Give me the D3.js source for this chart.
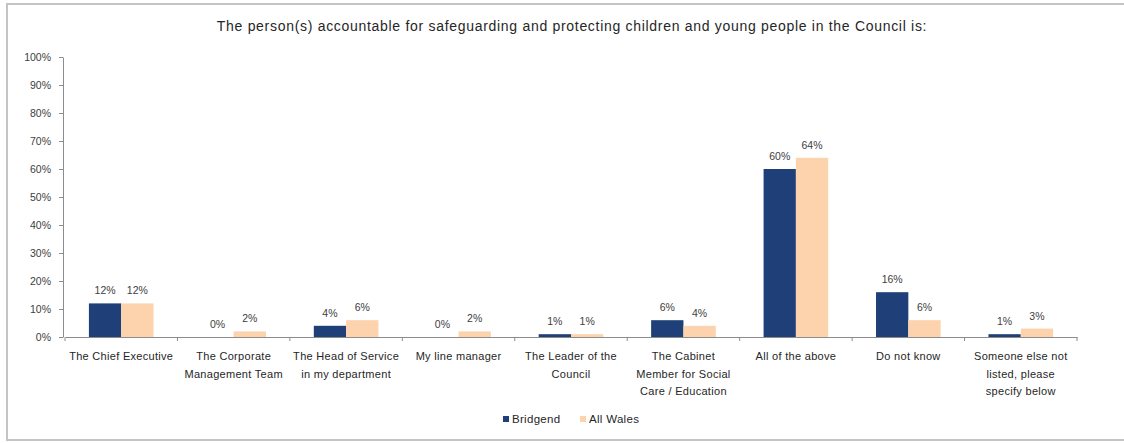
<!DOCTYPE html>
<html><head><meta charset="utf-8">
<script src="https://cdn.jsdelivr.net/npm/d3@7"></script>
<style>
html,body{margin:0;padding:0;background:#fff;}
svg{display:block;font-family:"Liberation Sans",Arial,sans-serif;}
</style></head><body>
<svg id="chart" width="1124" height="443"></svg>
<script>
const title = "The person(s) accountable for safeguarding and protecting children and young people in the Council is:";
const categories = [
  ["The Chief Executive"],
  ["The Corporate", "Management Team"],
  ["The Head of Service", "in my department"],
  ["My line manager"],
  ["The Leader of the", "Council"],
  ["The Cabinet", "Member for Social", "Care / Education"],
  ["All of the above"],
  ["Do not know"],
  ["Someone else not", "listed, please", "specify below"]
];
const seriesNames = ["Bridgend", "All Wales"];
const bridgend = [12, 0, 4, 0, 1, 6, 60, 16, 1];
const allWales = [12, 2, 6, 2, 1, 4, 64, 6, 3];
const yTicks = [0, 10, 20, 30, 40, 50, 60, 70, 80, 90, 100];
const colors = ["#1f3f78", "#fcd3ac"];

const svg = d3.select("#chart");
// outer frame
svg.append("rect").attr("x", 7).attr("y", 4).attr("width", 1130).attr("height", 436)
  .attr("fill", "#fff").attr("stroke", "#c4c4c4").attr("stroke-width", 2);

svg.append("text").attr("x", 572).attr("y", 31).attr("text-anchor", "middle")
  .attr("font-size", 14).attr("letter-spacing", 0.7).attr("fill", "#262626").text(title);

const x0 = d3.scaleBand().domain(d3.range(categories.length)).range([65, 1077]);
const x1 = d3.scaleBand().domain([0, 1]).range([0, x0.bandwidth()]).paddingOuter(0.74).paddingInner(0);
const y = d3.scaleLinear().domain([0, 100]).range([337, 57]);

// y axis
const yAxis = d3.axisLeft(y).tickValues(yTicks).tickFormat(d => d + "%").tickSize(4).tickSizeOuter(0);
const gy = svg.append("g").attr("transform", "translate(63,0)").call(yAxis);
gy.select(".domain").attr("stroke", "#8c8c8c");
gy.selectAll(".tick line").attr("stroke", "#8c8c8c");
gy.selectAll(".tick text").attr("font-size", 10.5).attr("fill", "#404040").attr("x", -12)
  .attr("font-family", "Liberation Sans, Arial, sans-serif");

// bars
const series = [bridgend, allWales];
const groups = svg.append("g");
series.forEach((vals, s) => {
  groups.selectAll(".bar" + s).data(vals).enter().append("rect")
    .attr("x", (d, i) => x0(i) + x1(s))
    .attr("y", d => y(d))
    .attr("width", x1.bandwidth())
    .attr("height", d => y(0) - y(d))
    .attr("fill", colors[s]);
  groups.selectAll(".lab" + s).data(vals).enter().append("text")
    .attr("x", (d, i) => x0(i) + x1(s) + x1.bandwidth() / 2)
    .attr("y", d => y(d) - 9)
    .attr("text-anchor", "middle").attr("font-size", 10.5).attr("fill", "#404040")
    .text(d => d + "%");
});

// x axis
const xAxis = d3.axisBottom(x0).tickSize(0).tickFormat("");
const gx = svg.append("g").attr("transform", `translate(0,${y(0)})`).call(xAxis);
gx.select(".domain").attr("stroke", "#8c8c8c");
// category boundary ticks
const bounds = d3.range(categories.length + 1).map(i => i < categories.length ? x0(i) : x0(categories.length - 1) + x0.bandwidth());
svg.append("g").selectAll("line").data(bounds).enter().append("line")
  .attr("x1", d => d).attr("x2", d => d).attr("y1", y(0)).attr("y2", y(0) + 4)
  .attr("stroke", "#8c8c8c");

// category labels
const cl = svg.append("g");
categories.forEach((lines, i) => {
  const t = cl.append("text").attr("text-anchor", "middle").attr("font-size", 11).attr("letter-spacing", 0.3).attr("fill", "#262626");
  lines.forEach((ln, j) => {
    t.append("tspan").attr("x", x0(i) + x0.bandwidth() / 2).attr("y", 360 + j * 17.5).text(ln);
  });
});

// legend
const leg = svg.append("g");
const legX = [503, 580];
seriesNames.forEach((n, s) => {
  leg.append("rect").attr("x", legX[s]).attr("y", 416).attr("width", 6).attr("height", 6).attr("fill", colors[s]);
  leg.append("text").attr("x", legX[s] + 9).attr("y", 423).attr("font-size", 11.5).attr("letter-spacing", 0.3).attr("fill", "#262626").text(n);
});
</script>
</body></html>
